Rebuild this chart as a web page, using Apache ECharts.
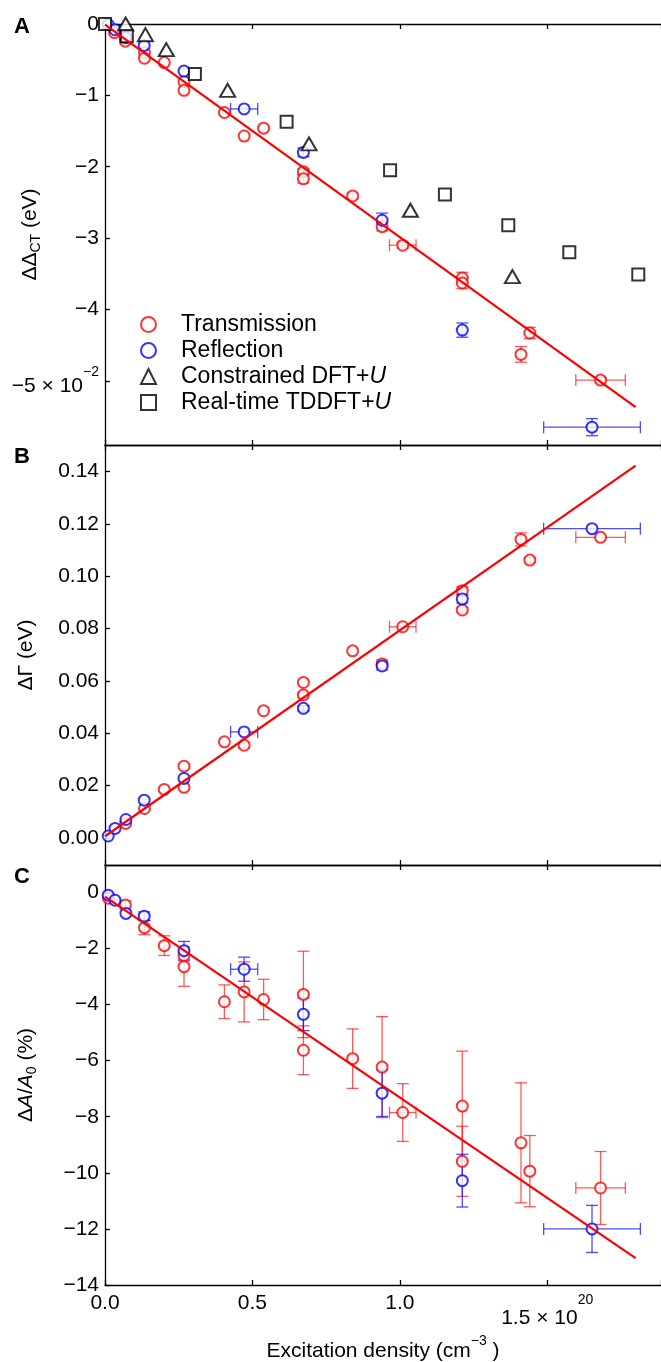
<!DOCTYPE html>
<html>
<head>
<meta charset="utf-8">
<script src="https://cdn.jsdelivr.net/npm/echarts@6/dist/echarts.min.js"></script>
<style>
html, body { margin: 0; padding: 0; background: #fff; }
#chart { width: 661px; height: 1362px; }
</style>
</head>
<body>
<div id="chart"></div>
<script>
// x: excitation density in 1e20 cm^-3
const xTicks = [0, 0.5, 1.0, 1.5];
const xTickLabels = ['0.0', '0.5', '1.0', '{m|1.5 × 10}{s|20}'];
const yTicksA = [0, -1, -2, -3, -4, -5];
const yTickLabelsA = ['0', '−1', '−2', '−3', '−4', '{m|−5 × 10}{s|−2}'];
const yTicksB = [0, 0.02, 0.04, 0.06, 0.08, 0.10, 0.12, 0.14];
const yTickLabelsB = ['0.00', '0.02', '0.04', '0.06', '0.08', '0.10', '0.12', '0.14'];
const yTicksC = [0, -2, -4, -6, -8, -10, -12, -14];
const yTickLabelsC = ['0', '−2', '−4', '−6', '−8', '−10', '−12', '−14'];

// rows: [density, value, yErr, xErr]
const transA = [
  [0.032, -0.12, 0, 0], [0.069, -0.20, 0, 0], [0.069, -0.24, 0, 0],
  [0.134, -0.40, 0, 0], [0.134, -0.48, 0, 0], [0.201, -0.54, 0, 0],
  [0.268, -0.81, 0, 0], [0.268, -0.93, 0, 0], [0.405, -1.24, 0, 0],
  [0.472, -1.57, 0, 0], [0.538, -1.46, 0, 0], [0.673, -2.07, 0.04, 0],
  [0.673, -2.17, 0.06, 0], [0.840, -2.41, 0.04, 0], [0.940, -2.84, 0.06, 0],
  [1.010, -3.10, 0.04, 0.045], [1.212, -3.56, 0.08, 0], [1.212, -3.63, 0.08, 0],
  [1.411, -4.63, 0.11, 0], [1.441, -4.33, 0.08, 0], [1.681, -4.99, 0.04, 0.084]
];
const reflA = [
  [0.011, -0.01, 0, 0], [0.034, -0.08, 0, 0], [0.071, -0.19, 0, 0],
  [0.133, -0.30, 0, 0], [0.268, -0.66, 0, 0], [0.472, -1.19, 0, 0.046],
  [0.673, -1.80, 0.06, 0], [0.940, -2.75, 0.10, 0], [1.212, -4.29, 0.10, 0],
  [1.652, -5.65, 0.12, 0.164]
];
const dftA = [
  [0.070, 0.0], [0.137, -0.15], [0.208, -0.36], [0.416, -0.93],
  [0.692, -1.68], [1.036, -2.61], [1.382, -3.54]
];
const tddftA = [
  [0.0, 0.0], [0.074, -0.17], [0.305, -0.70], [0.616, -1.37], [0.967, -2.05],
  [1.153, -2.39], [1.368, -2.82], [1.575, -3.20], [1.809, -3.51]
];
const fitA = [[0.0, -0.01], [1.80, -5.37]];

const transB = [
  [0.070, 0.0055, 0, 0], [0.134, 0.0112, 0, 0], [0.201, 0.0185, 0, 0],
  [0.268, 0.0274, 0, 0], [0.268, 0.0193, 0, 0], [0.405, 0.0367, 0, 0],
  [0.472, 0.0354, 0.001, 0], [0.538, 0.0486, 0, 0], [0.673, 0.0594, 0, 0],
  [0.673, 0.0546, 0.001, 0], [0.840, 0.0715, 0, 0], [0.940, 0.0665, 0.0015, 0],
  [1.010, 0.0807, 0, 0.045], [1.212, 0.0945, 0.0015, 0], [1.212, 0.0871, 0.001, 0],
  [1.411, 0.1141, 0.0025, 0], [1.441, 0.1062, 0.001, 0], [1.681, 0.1149, 0, 0.084]
];
const reflB = [
  [0.011, 0.0007, 0, 0], [0.034, 0.0036, 0, 0], [0.071, 0.0070, 0, 0],
  [0.133, 0.0144, 0, 0], [0.268, 0.0227, 0, 0], [0.472, 0.0405, 0, 0.046],
  [0.673, 0.0495, 0.001, 0], [0.940, 0.0657, 0.0015, 0], [1.212, 0.0913, 0.0015, 0],
  [1.652, 0.1182, 0, 0.164]
];
const fitB = [[0.0, 0.0006], [1.80, 0.1423]];

const transC = [
  [0.012, -0.21, 0, 0], [0.069, -0.45, 0.15, 0], [0.134, -1.26, 0.25, 0],
  [0.201, -1.90, 0.35, 0], [0.268, -2.25, 0.2, 0], [0.268, -2.65, 0.7, 0],
  [0.405, -3.90, 0.60, 0], [0.472, -3.55, 1.07, 0], [0.538, -3.82, 0.72, 0],
  [0.673, -3.64, 1.54, 0], [0.673, -5.63, 0.87, 0], [0.840, -5.93, 1.06, 0],
  [0.940, -6.23, 1.80, 0], [1.010, -7.85, 1.03, 0.045], [1.212, -7.62, 1.96, 0],
  [1.212, -9.59, 1.25, 0], [1.411, -8.93, 2.14, 0], [1.441, -9.94, 1.27, 0],
  [1.681, -10.54, 1.30, 0.084]
];
const reflC = [
  [0.011, -0.10, 0, 0], [0.034, -0.28, 0, 0], [0.071, -0.75, 0, 0],
  [0.133, -0.85, 0.15, 0], [0.268, -2.08, 0.33, 0], [0.472, -2.74, 0.43, 0.046],
  [0.673, -4.35, 0.58, 0], [0.940, -7.16, 0.83, 0], [1.212, -10.28, 0.94, 0],
  [1.652, -12.00, 0.84, 0.164]
];
const fitC = [[0.0, -0.15], [1.80, -13.04]];

const FONT = 'Liberation Sans';
const RED = '#ff0000', BLUE = '#0000ff';
const grids = [{ top: 24, h: 421 }, { top: 445, h: 420 }, { top: 865, h: 420 }];

function errSeries(data, color, gi) {
  return {
    type: 'custom', xAxisIndex: gi * 2, yAxisIndex: gi, z: 1, silent: true, clip: false,
    data: data.filter(d => d[2] > 0 || d[3] > 0),
    encode: { x: 0, y: 1 },
    renderItem(params, api) {
      const x = api.value(0), y = api.value(1), ye = api.value(2), xe = api.value(3);
      const st = { stroke: color, lineWidth: 1.3 };
      const c = 6, ch = [];
      const seg = (x1, y1, x2, y2) => ch.push({ type: 'line', shape: { x1, y1, x2, y2 }, style: st });
      if (ye > 0) {
        const a = api.coord([x, y + ye]), b = api.coord([x, y - ye]);
        seg(a[0], a[1], b[0], b[1]);
        seg(a[0] - c, a[1], a[0] + c, a[1]);
        seg(b[0] - c, b[1], b[0] + c, b[1]);
      }
      if (xe > 0) {
        const a = api.coord([x - xe, y]), b = api.coord([x + xe, y]);
        seg(a[0], a[1], b[0], b[1]);
        seg(a[0], a[1] - c, a[0], a[1] + c);
        seg(b[0], b[1] - c, b[0], b[1] + c);
      }
      return { type: 'group', children: ch };
    }
  };
}

function circles(name, data, color, gi) {
  return {
    name, type: 'scatter', xAxisIndex: gi * 2, yAxisIndex: gi, z: 2, clip: false,
    symbol: 'emptyCircle', symbolSize: 11,
    itemStyle: { color: color, borderColor: color, borderWidth: 1.3 },
    data: data.map(d => [d[0], d[1]])
  };
}

function fitLine(data, gi) {
  return {
    type: 'line', xAxisIndex: gi * 2, yAxisIndex: gi, z: 3, silent: true,
    symbol: 'none', data, lineStyle: { color: RED, width: 2.2 }
  };
}

const xAxes = [];
grids.forEach((g, i) => {
  ['bottom', 'top'].forEach(pos => {
    const showLabels = (i === 2 && pos === 'bottom');
    xAxes.push({
      type: 'value', gridIndex: i, position: pos, min: 0, max: 1.886, interval: 0.5,
      axisLine: { show: true, onZero: false, lineStyle: { color: '#000', width: 1.3 } },
      axisTick: { show: true, inside: true, length: 5, lineStyle: { color: '#000', width: 1.3 } },
      splitLine: { show: false },
      axisLabel: {
        show: showLabels, margin: 8, fontFamily: FONT, fontSize: 21, color: '#000',
        formatter: v => xTickLabels[xTicks.indexOf(+v.toFixed(2))] || '',
        rich: {
          m: { fontFamily: FONT, fontSize: 21, color: '#000', lineHeight: 36, verticalAlign: 'bottom' },
          s: { fontFamily: FONT, fontSize: 14, color: '#000', lineHeight: 36, verticalAlign: 'top' }
        }
      },
      name: showLabels ? '{t|Excitation density (cm}{s|−3}{t| )}' : '',
      nameLocation: 'middle', nameGap: 49, nameMoveOverlap: false,
      nameTextStyle: {
        rich: {
          t: { fontFamily: FONT, fontSize: 21, color: '#000', lineHeight: 28, verticalAlign: 'bottom' },
          s: { fontFamily: FONT, fontSize: 14, color: '#000', lineHeight: 28, verticalAlign: 'top' }
        }
      }
    });
  });
});

function yAxis(gi, min, max, ticks, labels, name, nameGap) {
  return {
    type: 'value', gridIndex: gi, min, max,
    axisLine: { show: true, onZero: false, lineStyle: { color: '#000', width: 1.3 } },
    axisTick: { show: true, inside: true, length: 5, customValues: ticks, lineStyle: { color: '#000', width: 1.3 } },
    splitLine: { show: false },
    axisLabel: {
      customValues: ticks, margin: 6, fontFamily: FONT, fontSize: 21, color: '#000',
      formatter: v => {
        const k = ticks.findIndex(t => Math.abs(t - v) < 1e-9);
        return k >= 0 ? labels[k] : '';
      },
      rich: {
        m: { fontFamily: FONT, fontSize: 21, color: '#000', lineHeight: 32, verticalAlign: 'bottom' },
        s: { fontFamily: FONT, fontSize: 14, color: '#000', lineHeight: 32, verticalAlign: 'top' }
      }
    },
    name, nameLocation: 'middle', nameRotate: 90, nameGap, nameMoveOverlap: false,
    nameTextStyle: {
      rich: {
        d: { fontFamily: FONT, fontSize: 21, color: '#000', lineHeight: 26 },
        i: { fontFamily: FONT, fontSize: 21, fontStyle: 'italic', color: '#000', lineHeight: 26 },
        sub: { fontFamily: FONT, fontSize: 14, color: '#000', lineHeight: 26, verticalAlign: 'bottom' }
      }
    }
  };
}

const legendNames = ['Transmission', 'Reflection', 'Constrained DFT+U', 'Real-time TDDFT+U'];

const option = {
  backgroundColor: '#fff',
  animation: false,
  grid: grids.map(g => ({ left: 105, right: 0, top: g.top, height: g.h, outerBoundsMode: 'none' })),
  xAxis: xAxes,
  yAxis: [
    yAxis(0, -5.9, 0, yTicksA, yTickLabelsA, '{d|ΔΔ}{sub|CT}{d| (eV)}', 62),
    yAxis(1, -0.0104, 0.1502, yTicksB, yTickLabelsB, '{d|ΔΓ (eV)}', 66),
    yAxis(2, -14, 0.975, yTicksC, yTickLabelsC, '{d|Δ}{i|A}{d|/}{i|A}{sub|0}{d| (%)}', 66)
  ],
  legend: {
    data: legendNames, orient: 'vertical', left: 140, top: 313, padding: 0,
    itemWidth: 15, itemHeight: 15, itemGap: 3, selectedMode: false,
    formatter: n => n.endsWith('+U') ? '{n|' + n.slice(0, -1) + '}{u|U}' : '{n|' + n + '}',
    textStyle: {
      padding: [0, 0, 0, 20],
      rich: {
        n: { fontFamily: FONT, fontSize: 23, color: '#000' },
        u: { fontFamily: FONT, fontSize: 23, fontStyle: 'italic', color: '#000' }
      }
    }
  },
  graphic: [
    { type: 'text', left: 14, top: 16, style: { text: 'A', font: 'bold 22px "Liberation Sans"', fill: '#000' } },
    { type: 'text', left: 14, top: 446, style: { text: 'B', font: 'bold 22px "Liberation Sans"', fill: '#000' } },
    { type: 'text', left: 14, top: 866, style: { text: 'C', font: 'bold 22px "Liberation Sans"', fill: '#000' } }
  ],
  series: [
    errSeries(transA, 'rgba(255,0,0,0.65)', 0),
    errSeries(reflA, 'rgba(0,0,255,0.7)', 0),
    circles('Transmission', transA, RED, 0),
    circles('Reflection', reflA, BLUE, 0),
    {
      name: 'Constrained DFT+U', type: 'scatter', xAxisIndex: 0, yAxisIndex: 0, z: 2, clip: false,
      symbol: 'emptyTriangle', symbolSize: [15, 13],
      itemStyle: { color: '#000', borderColor: '#000', borderWidth: 1.3 }, data: dftA
    },
    {
      name: 'Real-time TDDFT+U', type: 'scatter', xAxisIndex: 0, yAxisIndex: 0, z: 2, clip: false,
      symbol: 'emptyRect', symbolSize: 12,
      itemStyle: { color: '#000', borderColor: '#000', borderWidth: 1.5 }, data: tddftA
    },
    fitLine(fitA, 0),

    errSeries(transB, 'rgba(255,0,0,0.65)', 1),
    errSeries(reflB, 'rgba(0,0,255,0.7)', 1),
    circles('Transmission', transB, RED, 1),
    circles('Reflection', reflB, BLUE, 1),
    fitLine(fitB, 1),

    errSeries(transC, 'rgba(255,0,0,0.65)', 2),
    errSeries(reflC, 'rgba(0,0,255,0.7)', 2),
    circles('Transmission', transC, RED, 2),
    circles('Reflection', reflC, BLUE, 2),
    fitLine(fitC, 2)
  ]
};

const chart = echarts.init(document.getElementById('chart'));
chart.setOption(option);
</script>
</body>
</html>
